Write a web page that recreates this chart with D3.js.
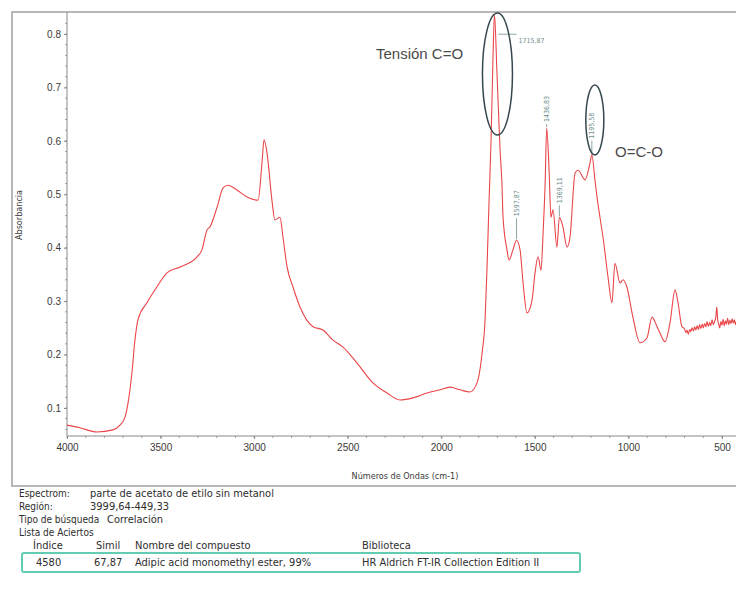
<!DOCTYPE html>
<html>
<head>
<meta charset="utf-8">
<script src="https://cdn.jsdelivr.net/npm/d3@7"></script>
<style>
  body { margin: 0; background: #fff; }
  svg { display: block; font-family: "Liberation Sans Narrow", "DejaVu Sans Condensed", "Liberation Sans", Arial, sans-serif; }
</style>
</head>
<body>
<svg id="chart" width="736" height="607"></svg>
<script>
// IR spectrum: wavenumber (cm-1) and absorbance
const wavenumber = [4000,3931,3840,3754,3717,3690,3674,3653,3637,3621,3573,3519,3466,3396,3305,3279,3252,3236,3198,3166,3140,3092,3038,2979,2958,2947,2931,2905,2889,2862,2846,2824,2792,2755,2685,2632,2579,2525,2450,2365,2290,2221,2151,2076,2007,1953,1900,1847,1809,1782,1766,1756,1745,1734,1724,1715.87,1703,1686,1676,1670,1649,1638,1617,1597.87,1579,1563,1542,1515,1499,1483,1467,1456,1445,1436.83,1424,1414,1403,1382,1369.11,1350,1328,1312,1285,1269,1232,1205,1195.58,1179,1168,1152,1136,1109,1088,1072,1045,1029,1008,976,938,901,874,847,831,805,778,751,735,714,700,693,687,680,673,667,660,653,646,640,633,626,620,613,606,600,593,586,580,573,566,560,553,547,540,533,528,523,518,512,506,500,494,488,482,476,470,464,458,452,446,440,434,428,425];
const absorbance = [0.068,0.063,0.055,0.059,0.068,0.083,0.109,0.166,0.227,0.265,0.297,0.327,0.353,0.364,0.383,0.396,0.433,0.439,0.476,0.512,0.517,0.508,0.495,0.489,0.559,0.602,0.577,0.489,0.452,0.457,0.420,0.364,0.326,0.289,0.252,0.246,0.227,0.214,0.184,0.147,0.128,0.115,0.119,0.128,0.134,0.139,0.134,0.130,0.147,0.203,0.265,0.358,0.484,0.602,0.751,0.837,0.733,0.583,0.521,0.457,0.396,0.377,0.396,0.414,0.396,0.334,0.278,0.302,0.353,0.383,0.358,0.428,0.521,0.624,0.545,0.457,0.471,0.401,0.457,0.439,0.401,0.420,0.540,0.545,0.527,0.559,0.574,0.527,0.495,0.457,0.420,0.345,0.297,0.371,0.334,0.340,0.326,0.270,0.222,0.231,0.270,0.252,0.240,0.224,0.259,0.321,0.297,0.252,0.248,0.241,0.246,0.238,0.247,0.243,0.250,0.244,0.252,0.246,0.254,0.247,0.256,0.249,0.257,0.250,0.258,0.252,0.262,0.253,0.260,0.254,0.265,0.256,0.262,0.270,0.289,0.265,0.258,0.250,0.262,0.255,0.266,0.254,0.263,0.257,0.268,0.256,0.264,0.258,0.267,0.259,0.265,0.256,0.262];

const xTicks = [4000,3500,3000,2500,2000,1500,1000,500];
const yTicks = [0.1,0.2,0.3,0.4,0.5,0.6,0.7,0.8];

// labelled peaks
const peakWn = [1715.87, 1597.87, 1436.83, 1369.11, 1195.58];
const peakText = ["1715,87", "1597,87", "1436,83", "1369,11", "1195,58"];

// search report below the plot
const infoLabels = ["Espectrom:", "Región:", "Tipo de búsqueda", "Lista de Aciertos"];
const infoValues = ["parte de acetato de etilo sin metanol", "3999,64-449,33", "Correlación", ""];
const hitHeaders = ["Índice", "Simil", "Nombre del compuesto", "Biblioteca"];
const hitRow = ["4580", "67,87", "Adipic acid monomethyl ester, 99%", "HR Aldrich FT-IR Collection Edition II"];

const svg = d3.select("#chart");
const W = 736;
const plotL = 67, plotR = 736, plotT = 12, plotB = 436;

const x = d3.scaleLinear().domain([4000, 500]).range([67, 722]);
const y = d3.scaleLinear().domain([0.1, 0.8]).range([408, 34]);

// panel frame
svg.append("rect").attr("x", 12).attr("y", 12).attr("width", W).attr("height", 474)
  .attr("fill", "none").attr("stroke", "#b8b8b8").attr("stroke-width", 2);

// axes
const axisColor = "#8a8a8a";
const gx = svg.append("g").attr("transform", `translate(0,${plotB})`)
  .call(d3.axisBottom(x).tickValues(xTicks).tickSize(3).tickPadding(5).tickFormat(d3.format("d")));
const gy = svg.append("g").attr("transform", `translate(${plotL},0)`)
  .call(d3.axisLeft(y).tickValues(yTicks).tickSize(3).tickPadding(3).tickFormat(d3.format(".1f")));
gx.select(".domain").attr("d", `M${plotL},0H${plotR}`);
gy.select(".domain").attr("d", `M0,${plotB}V${plotT}`);
[gx, gy].forEach(g => {
  g.selectAll(".domain").attr("stroke", axisColor);
  g.selectAll(".tick line").attr("stroke", axisColor);
  g.selectAll("text").attr("fill", "#3a3a3a").style("font-size", "10px");
});

// minor ticks
const minorX = d3.range(4000, 400, -100).filter(v => x(v) <= plotR);
svg.append("g").selectAll("line").data(minorX).join("line")
  .attr("x1", d => x(d)).attr("x2", d => x(d)).attr("y1", plotB).attr("y2", plotB + 2)
  .attr("stroke", axisColor).attr("stroke-width", 0.8);
const minorY = d3.range(0.06, 0.84, 0.02).filter(v => y(v) >= plotT && y(v) <= plotB);
svg.append("g").selectAll("line").data(minorY).join("line")
  .attr("x1", plotL - 2).attr("x2", plotL).attr("y1", d => y(d)).attr("y2", d => y(d))
  .attr("stroke", axisColor).attr("stroke-width", 0.8);

// axis titles
svg.append("text").attr("x", 405).attr("y", 479).attr("text-anchor", "middle")
  .attr("fill", "#3a3a3a").style("font-size", "9px").text("Números de Ondas (cm-1)");
svg.append("text").attr("transform", "translate(22,215) rotate(-90)").attr("text-anchor", "middle")
  .attr("fill", "#3a3a3a").style("font-size", "9px").text("Absorbancia");

// spectrum
svg.append("clipPath").attr("id", "clip").append("rect")
  .attr("x", plotL).attr("y", plotT).attr("width", plotR - plotL).attr("height", plotB - plotT);
const pts = wavenumber.map((w, i) => [w, absorbance[i]]);
svg.append("path").datum(pts).attr("clip-path", "url(#clip)")
  .attr("d", d3.line().x(d => x(d[0])).y(d => y(d[1])).curve(d3.curveMonotoneX))
  .attr("fill", "none").attr("stroke", "#ea4548").attr("stroke-width", 1.1)
  .attr("stroke-linejoin", "round");

// peak markers
const peakA = peakWn.map(w => absorbance[wavenumber.indexOf(w)]);
const labelColor = "#6f8f8c";
const pk = svg.append("g").attr("fill", labelColor).style("font-size", "7px");
// main carbonyl peak: horizontal leader
pk.append("line").attr("x1", x(peakWn[0]) + 4).attr("x2", x(peakWn[0]) + 22)
  .attr("y1", y(peakA[0]) + 20).attr("y2", y(peakA[0]) + 20).attr("stroke", labelColor).attr("stroke-width", 0.8);
pk.append("text").attr("x", x(peakWn[0]) + 24).attr("y", y(peakA[0]) + 29).text(peakText[0]);
// remaining peaks: vertical labels above each peak
const gaps = [0, 22, 4, 12, 14];
peakWn.slice(1).forEach((w, k) => {
  const i = k + 1, px = x(w), py = y(peakA[i]);
  const gap = gaps[i];
  pk.append("line").attr("x1", px).attr("x2", px).attr("y1", py - 1).attr("y2", py - gap)
    .attr("stroke", labelColor).attr("stroke-width", 0.8);
  pk.append("text").attr("transform", `translate(${px + 2.5},${py - gap - 2}) rotate(-90)`).text(peakText[i]);
});

// highlighted bands
const ringColor = "#34484e";
svg.append("ellipse").attr("cx", x(peakWn[0]) + 3).attr("cy", 74).attr("rx", 15).attr("ry", 61)
  .attr("fill", "none").attr("stroke", ringColor).attr("stroke-width", 1.5);
svg.append("ellipse").attr("cx", x(peakWn[4]) + 3).attr("cy", 120).attr("rx", 9).attr("ry", 35)
  .attr("fill", "none").attr("stroke", ringColor).attr("stroke-width", 1.5);
svg.append("text").attr("x", 376).attr("y", 59).attr("fill", "#4a4a4a")
  .style("font-family", "'Liberation Sans', Arial, sans-serif").style("font-size", "15px").text("Tensión C=O");
svg.append("text").attr("x", 615).attr("y", 157).attr("fill", "#4a4a4a")
  .style("font-family", "'Liberation Sans', Arial, sans-serif").style("font-size", "15px").text("O=C-O");

// search report
const info = svg.append("g").attr("fill", "#2e2e2e").style("font-size", "11px");
infoLabels.forEach((t, i) => {
  info.append("text").attr("x", 19).attr("y", 497 + i * 13).style("font-size", "10px").text(t);
  const vx = i === 2 ? 107 : 90;
  info.append("text").attr("x", vx).attr("y", 497 + i * 13).text(infoValues[i]);
});
const colX = [33, 96, 135, 362];
hitHeaders.forEach((t, i) => info.append("text").attr("x", colX[i]).attr("y", 549).text(t));
const rowX = [36, 94, 135, 362];
hitRow.forEach((t, i) => info.append("text").attr("x", rowX[i]).attr("y", 566).text(t));
svg.append("rect").attr("x", 22).attr("y", 553).attr("width", 558).attr("height", 19).attr("rx", 2)
  .attr("fill", "none").attr("stroke", "#63cdb4").attr("stroke-width", 2);
</script>
</body>
</html>
